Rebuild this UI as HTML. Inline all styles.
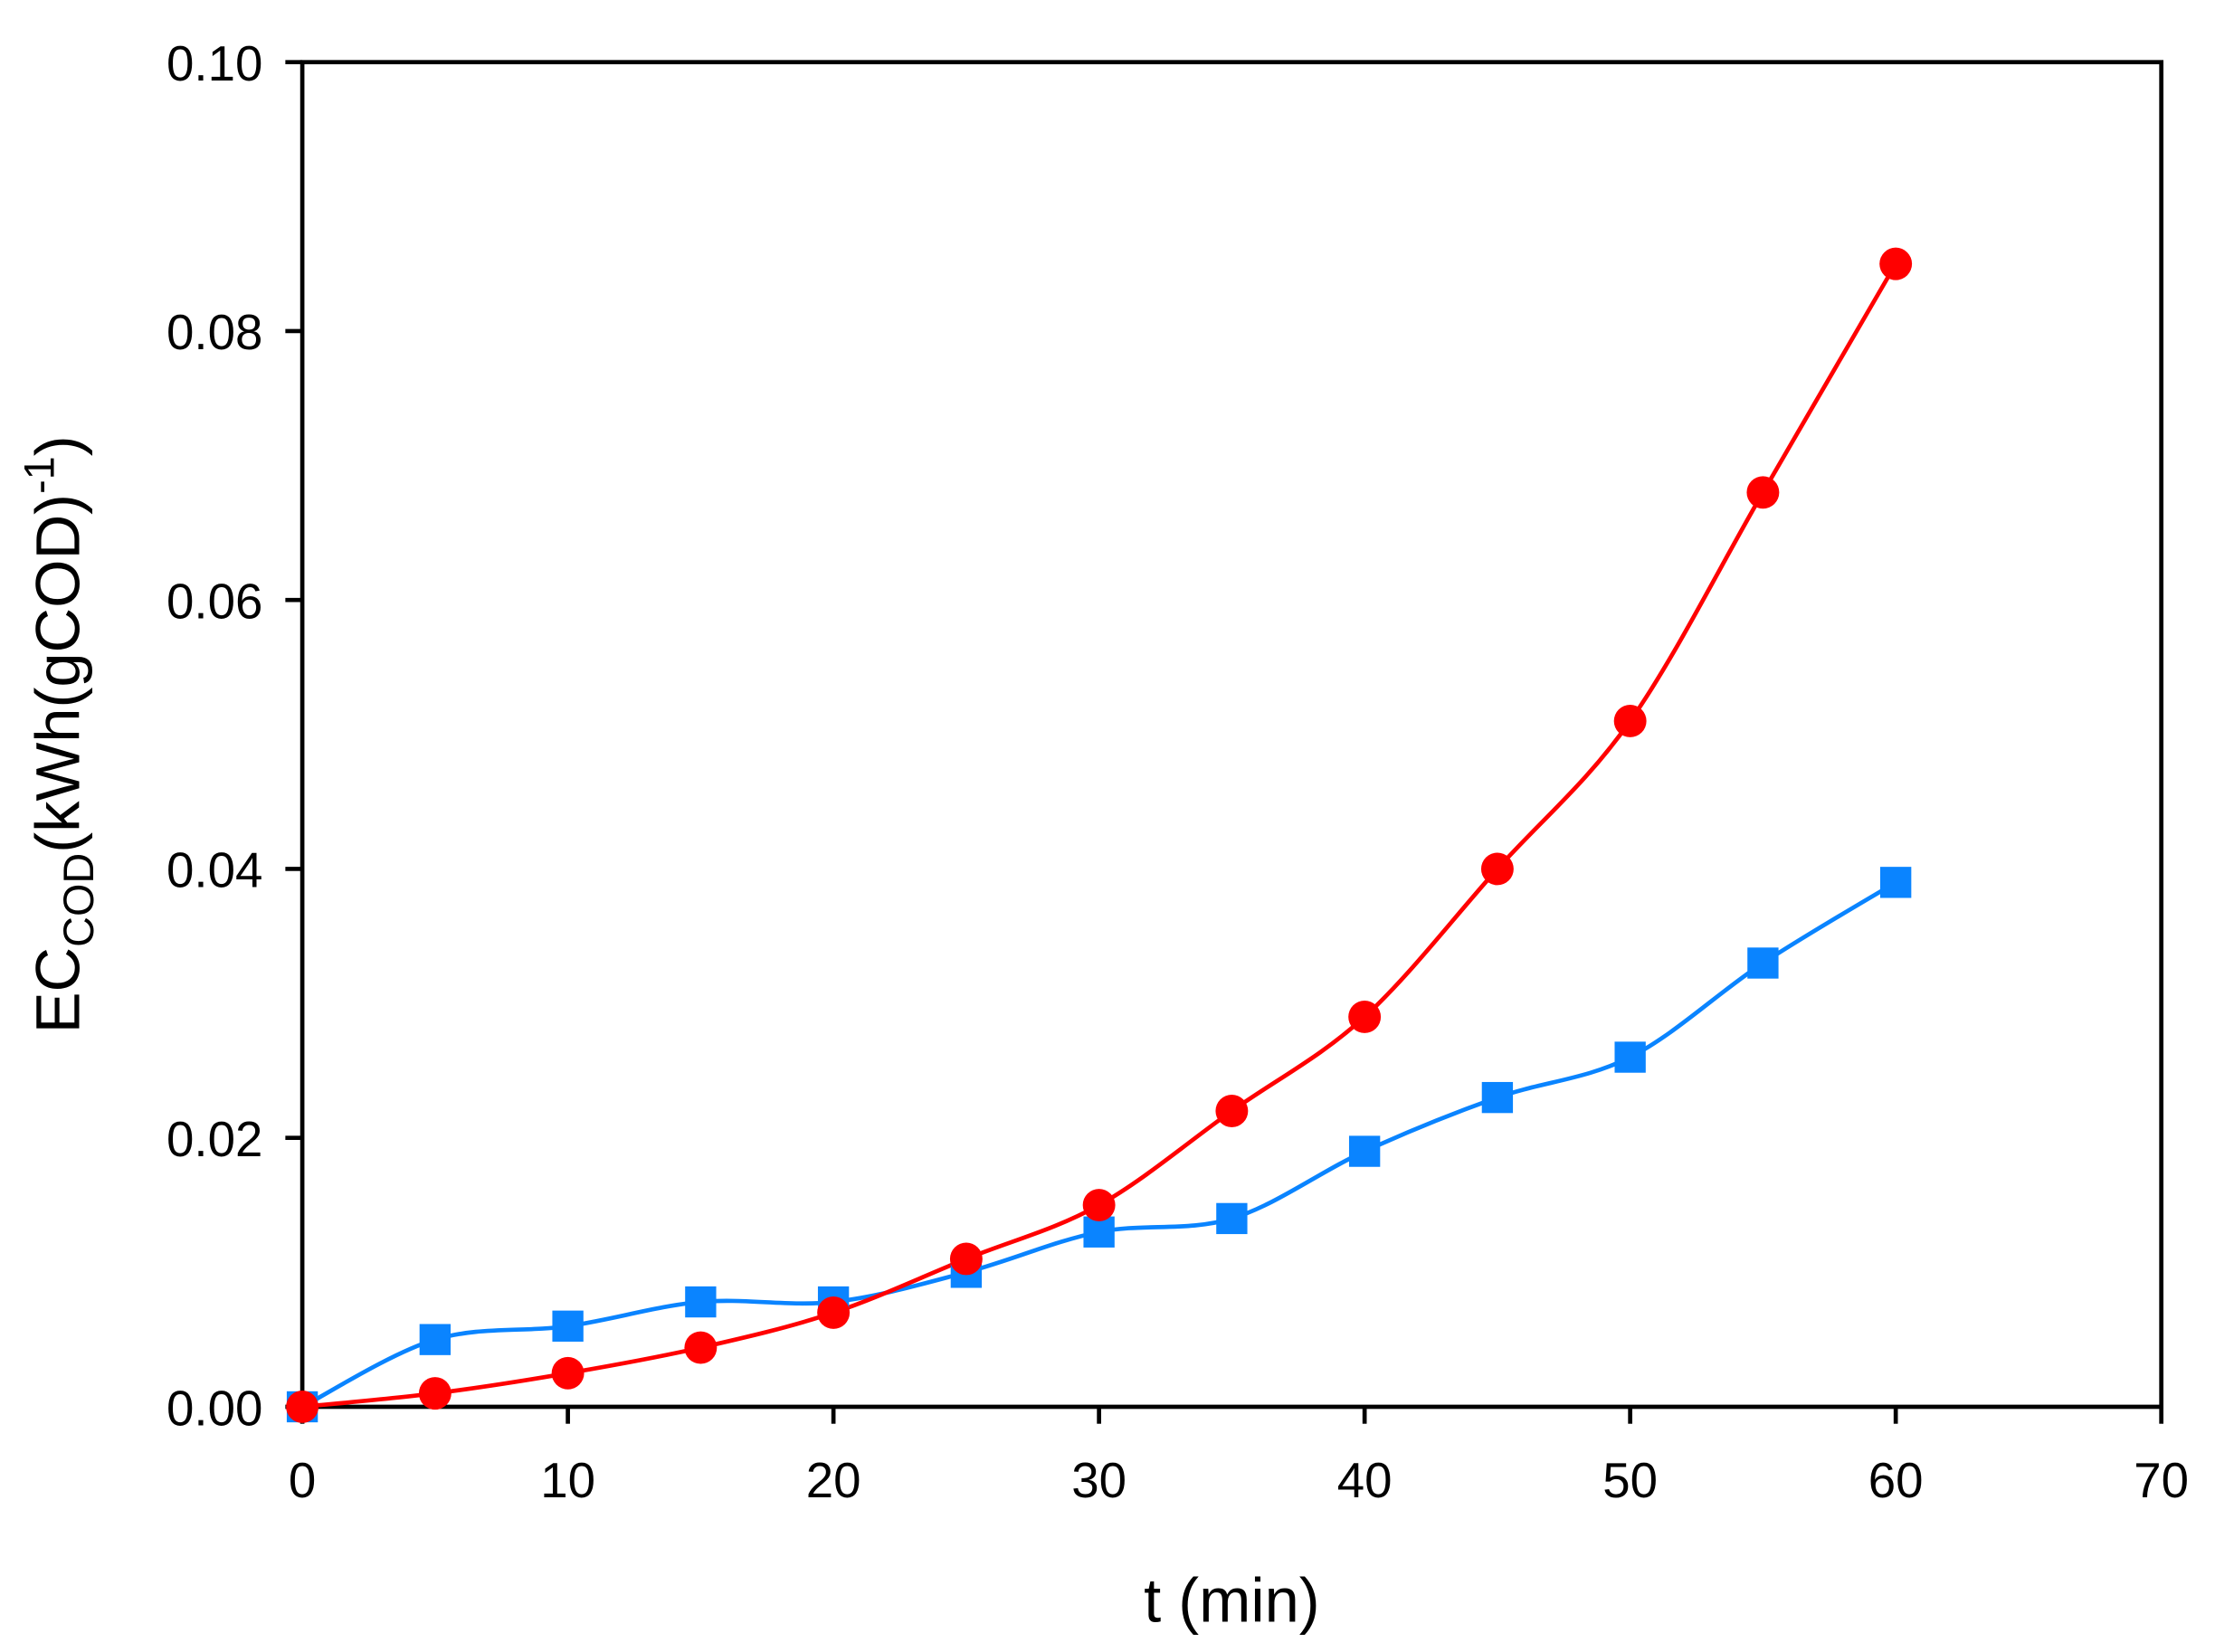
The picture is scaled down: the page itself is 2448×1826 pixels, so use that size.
<!DOCTYPE html>
<html><head><meta charset="utf-8"><style>html,body{margin:0;padding:0;background:#fff}svg{display:block}</style></head>
<body>
<svg width="2448" height="1826" viewBox="0 0 1568 1169.6" preserveAspectRatio="none" xmlns="http://www.w3.org/2000/svg" font-family="Liberation Sans, Arial, sans-serif">
<g id="root"></g>
</svg>
<script>
const xVals=[0,5,10,15,20,25,30,35,40,45,50,55,60];
const redVals=[0,0.001,0.0025,0.0044,0.007,0.011,0.015,0.022,0.029,0.040,0.051,0.068,0.085];
const blueVals=[0,0.005,0.006,0.0078,0.0078,0.010,0.013,0.014,0.019,0.023,0.026,0.033,0.039];
const xTicks=[0,10,20,30,40,50,60,70];
const yTicks=[0,0.02,0.04,0.06,0.08,0.10];
const yTickLabels=["0.00","0.02","0.04","0.06","0.08","0.10"];

const L=214,R=1530,T=44,B=996;
const sx=v=>L+(v-0)/(70)*(R-L);
const sy=v=>B-(v/0.10)*(B-T);
const NS="http://www.w3.org/2000/svg";
const root=document.getElementById('root');
function mk(tag,attrs,parent){const e=document.createElementNS(NS,tag);for(const k in attrs)e.setAttribute(k,attrs[k]);(parent||root).appendChild(e);return e;}

const frame=mk('rect',{x:L,y:T,width:R-L,height:B-T,fill:'none',stroke:'#000','stroke-width':3});



xTicks.forEach(t=>{
  const l=mk('line',{x1:sx(t),x2:sx(t),y1:B,y2:B+12,stroke:'#000','stroke-width':3});
  
  
  const tx=mk('text',{x:sx(t),y:B+64,'font-size':35,'text-anchor':'middle'});
  tx.textContent=t;
  
  
});
yTicks.forEach((t,i)=>{
  const l=mk('line',{x1:L-12,x2:L,y1:sy(t),y2:sy(t),stroke:'#000','stroke-width':3});
  
  
  const tx=mk('text',{x:L-28,y:sy(t)+13,'font-size':35,'text-anchor':'end'});
  tx.textContent=yTickLabels[i];
  
  
});

const xt=mk('text',{x:872,y:1148,'font-size':44,'text-anchor':'middle'});
xt.textContent='t (min)';



const yt=mk('text',{transform:'translate(56,520) rotate(-90)','font-size':44,'text-anchor':'middle'});


yt.innerHTML='EC<tspan font-size="30" dy="10">COD</tspan><tspan dy="-10">(kWh(gCOD)</tspan><tspan font-size="30" dy="-18">-1</tspan><tspan dy="18">)</tspan>';

function smooth(vals){
  const p=vals.map((v,i)=>[sx(xVals[i]),sy(v)]);
  let d='M'+p[0][0]+','+p[0][1];
  for(let i=0;i<p.length-1;i++){
    const p0=p[i-1]||p[i],p1=p[i],p2=p[i+1],p3=p[i+2]||p2;
    const c1=[p1[0]+(p2[0]-p0[0])/6,p1[1]+(p2[1]-p0[1])/6];
    const c2=[p2[0]-(p3[0]-p1[0])/6,p2[1]-(p3[1]-p1[1])/6];
    d+=` C${c1[0]},${c1[1]} ${c2[0]},${c2[1]} ${p2[0]},${p2[1]}`;
  }
  return d;
}
const bl=mk('path',{d:smooth(blueVals),fill:'none',stroke:'#0a84ff','stroke-width':3});


const rl=mk('path',{d:smooth(redVals),fill:'none',stroke:'#ff0000','stroke-width':3});



blueVals.forEach((v,i)=>{
  const s=mk('rect',{x:sx(xVals[i])-11,y:sy(v)-11,width:22,height:22,fill:'#0a84ff'});
  
  
});
redVals.forEach((v,i)=>{
  const c=mk('circle',{cx:sx(xVals[i]),cy:sy(v),r:11.5,fill:'#ff0000'});
  
  
});
</script>
</body></html>
